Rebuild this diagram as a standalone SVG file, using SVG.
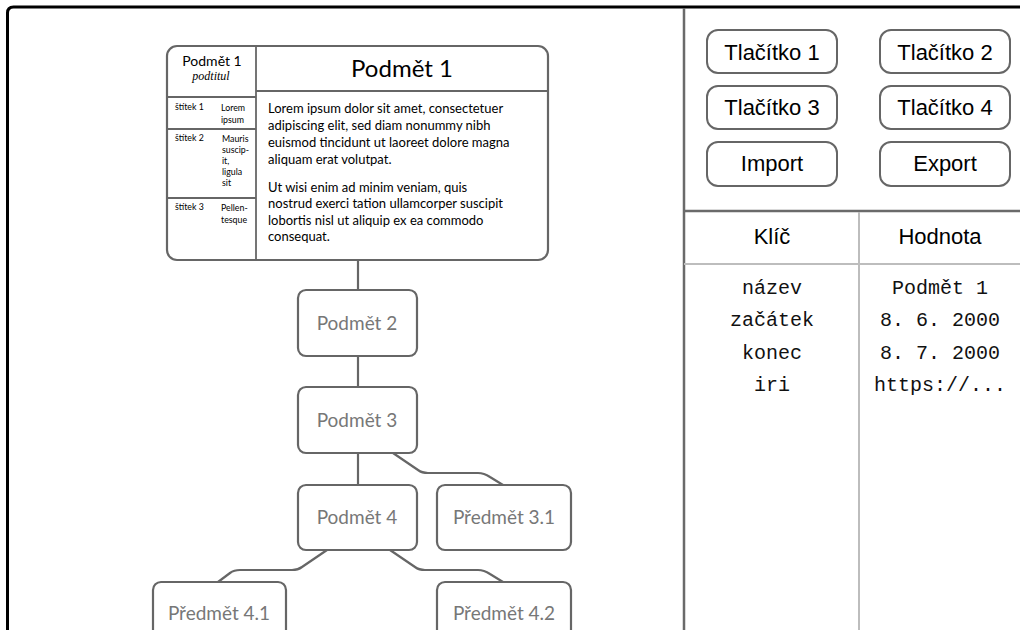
<svg xmlns="http://www.w3.org/2000/svg" width="1020" height="630" viewBox="0 0 1020 630">
<style>
.frame{fill:none;stroke:#000;stroke-width:3}
.div{stroke:#6a6a6a;stroke-width:2.5;fill:none}
.tl{stroke:#bdbdbd;stroke-width:2;fill:none}
.btn{fill:#fff;stroke:#666;stroke-width:2}
.btxt{font-family:"Liberation Sans",sans-serif;font-size:22px;fill:#000;text-anchor:middle}
.mono{font-family:"Liberation Mono",monospace;font-size:20px;fill:#111;text-anchor:middle}
.node{fill:#fff;stroke:#666;stroke-width:2.2}
.ntxt{font-family:Lato,sans-serif;font-size:19px;fill:#777;text-anchor:middle}
.edge{fill:none;stroke:#666;stroke-width:2.2}
.body{font-family:Lato,sans-serif;font-size:13px;fill:#000}
.lbl{font-family:Lato,sans-serif;font-size:8.8px;fill:#000}
.inner{stroke:#666;stroke-width:1.8;fill:none}
</style>
<rect x="0" y="0" width="1020" height="630" fill="#fff"/>
<path class="frame" d="M7.5,640 V13 Q7.5,7 13.5,7 H1030"/>
<line class="div" x1="684" y1="8" x2="684" y2="630"/>
<line class="div" x1="684" y1="211" x2="1020" y2="211"/>
<line class="tl" x1="684" y1="264" x2="1020" y2="264"/>
<line class="tl" x1="859" y1="212" x2="859" y2="630"/>

<g id="btn1"><rect class="btn" x="707" y="30" width="130" height="43" rx="11"/><text class="btxt" x="772" y="60">Tlačítko 1</text></g>
<g id="btn2"><rect class="btn" x="880" y="30" width="130" height="43" rx="11"/><text class="btxt" x="945" y="60">Tlačítko 2</text></g>
<g id="btn3"><rect class="btn" x="707" y="86" width="130" height="43" rx="11"/><text class="btxt" x="772" y="115">Tlačítko 3</text></g>
<g id="btn4"><rect class="btn" x="880" y="86" width="130" height="43" rx="11"/><text class="btxt" x="945" y="115">Tlačítko 4</text></g>
<g id="btnImport"><rect class="btn" x="707" y="142" width="130" height="44" rx="11"/><text class="btxt" x="772" y="171">Import</text></g>
<g id="btnExport"><rect class="btn" x="880" y="142" width="130" height="44" rx="11"/><text class="btxt" x="945" y="171">Export</text></g>

<g id="table">
<text class="btxt" x="772" y="244">Klíč</text>
<text class="btxt" x="940" y="244">Hodnota</text>
<text class="mono" x="772" y="294">název</text>
<text class="mono" x="772" y="326">začátek</text>
<text class="mono" x="772" y="359">konec</text>
<text class="mono" x="772" y="391">iri</text>
<text class="mono" x="940" y="294">Podmět 1</text>
<text class="mono" x="940" y="326">8. 6. 2000</text>
<text class="mono" x="940" y="359">8. 7. 2000</text>
<text class="mono" x="940" y="391">https://...</text>
</g>

<g id="connectors">
<line class="edge" x1="358" y1="260" x2="358" y2="290"/>
<line class="edge" x1="358" y1="356" x2="358" y2="387"/>
<line class="edge" x1="358" y1="453" x2="358" y2="485"/>
<path class="edge" d="M393,453 L418,470 Q422,473 428,473 H478 Q484,473 490,477 L503,485"/>
<path class="edge" d="M327,550 L302,567 Q298,570 292,570 H240 Q234,570 230,573 L218,582"/>
<path class="edge" d="M390,550 L415,567 Q419,570 425,570 H478 Q484,570 490,574 L503,582"/>
</g>

<g id="podmet1">
<rect class="node" x="167" y="46" width="381" height="214" rx="10"/>
<line class="inner" x1="256" y1="46" x2="256" y2="260"/>
<line class="inner" x1="256" y1="91" x2="548" y2="91"/>
<line class="inner" x1="167" y1="97" x2="256" y2="97"/>
<line class="inner" x1="167" y1="129" x2="256" y2="129"/>
<line class="inner" x1="167" y1="198" x2="256" y2="198"/>
<text x="212" y="66" font-family="Lato,sans-serif" font-size="14px" text-anchor="middle">Podmět 1</text>
<text x="211" y="80" font-family="'Liberation Serif',serif" font-style="italic" font-size="12px" text-anchor="middle">podtitul</text>
<text x="402" y="77" font-family="Lato,sans-serif" font-size="24px" text-anchor="middle">Podmět 1</text>
<text class="body" x="268" y="113">Lorem ipsum dolor sit amet, consectetuer</text>
<text class="body" x="268" y="130">adipiscing elit, sed diam nonummy nibh</text>
<text class="body" x="268" y="147">euismod tincidunt ut laoreet dolore magna</text>
<text class="body" x="268" y="164">aliquam erat volutpat.</text>
<text class="body" x="268" y="192">Ut wisi enim ad minim veniam, quis</text>
<text class="body" x="268" y="208">nostrud exerci tation ullamcorper suscipit</text>
<text class="body" x="268" y="225">lobortis nisl ut aliquip ex ea commodo</text>
<text class="body" x="268" y="241">consequat.</text>
<text class="lbl" x="175" y="110">štítek 1</text>
<text class="lbl" x="221" y="111">Lorem</text>
<text class="lbl" x="221" y="123">ipsum</text>
<text class="lbl" x="175" y="141">štítek 2</text>
<text class="lbl" x="222" y="142">Mauris</text>
<text class="lbl" x="222" y="153">suscip-</text>
<text class="lbl" x="222" y="164">it,</text>
<text class="lbl" x="222" y="175">ligula</text>
<text class="lbl" x="222" y="186">sit</text>
<text class="lbl" x="175" y="210">štítek 3</text>
<text class="lbl" x="221" y="211">Pellen-</text>
<text class="lbl" x="221" y="223">tesque</text>
</g>

<g id="podmet2"><rect class="node" x="298" y="290" width="119" height="66" rx="8"/><text class="ntxt" x="357" y="330">Podmět 2</text></g>
<g id="podmet3"><rect class="node" x="298" y="387" width="119" height="66" rx="8"/><text class="ntxt" x="357" y="427">Podmět 3</text></g>
<g id="podmet4"><rect class="node" x="298" y="485" width="119" height="65" rx="8"/><text class="ntxt" x="357" y="524">Podmět 4</text></g>
<g id="predmet31"><rect class="node" x="437" y="485" width="134" height="65" rx="8"/><text class="ntxt" x="504" y="524">Předmět 3.1</text></g>
<g id="predmet41"><rect class="node" x="153" y="582" width="133" height="66" rx="8"/><text class="ntxt" x="219" y="620">Předmět 4.1</text></g>
<g id="predmet42"><rect class="node" x="437" y="582" width="134" height="66" rx="8"/><text class="ntxt" x="504" y="620">Předmět 4.2</text></g>
</svg>
